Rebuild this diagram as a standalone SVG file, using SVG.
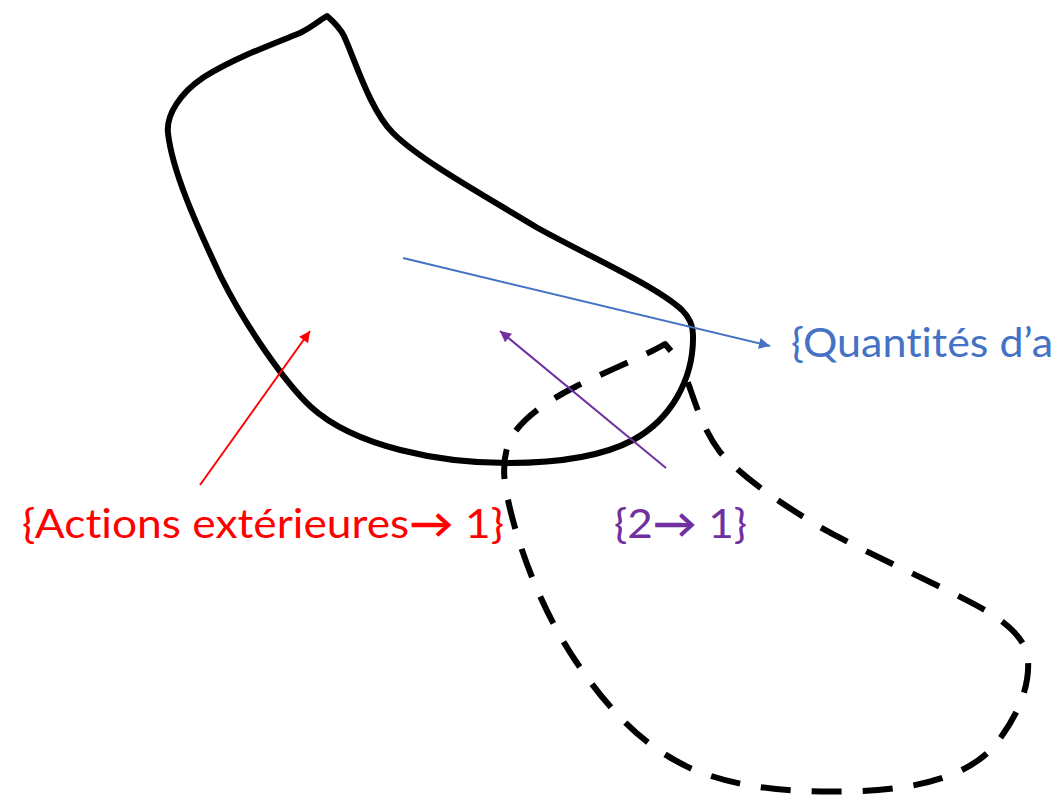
<svg xmlns="http://www.w3.org/2000/svg" width="1051" height="808" viewBox="0 0 1051 808">
  <style>
    .outline { fill: none; stroke: #000; stroke-width: 6; stroke-linejoin: round; stroke-linecap: butt; }
    .dashed { stroke-dasharray: 30 21; }
    .lbl { font-family: Lato, "Liberation Sans", sans-serif; font-size: 40px; font-variant-ligatures: none; }
    .arr { font-weight: bold; }
    .conn { fill: none; stroke-width: 2; }
  </style>
  <defs>
    <marker id="ahRed" viewBox="0 0 10 10" refX="10" refY="5" markerWidth="15" markerHeight="11" markerUnits="userSpaceOnUse" orient="auto">
      <path d="M0,0 L10,5 L0,10 z" fill="#FF0000"/>
    </marker>
    <marker id="ahPurple" viewBox="0 0 10 10" refX="10" refY="5" markerWidth="15" markerHeight="11" markerUnits="userSpaceOnUse" orient="auto">
      <path d="M0,0 L10,5 L0,10 z" fill="#7030A0"/>
    </marker>
    <marker id="ahBlue" viewBox="0 0 10 10" refX="10" refY="5" markerWidth="15" markerHeight="11" markerUnits="userSpaceOnUse" orient="auto">
      <path d="M0,0 L10,5 L0,10 z" fill="#4472C4"/>
    </marker>
  </defs>

  <g id="body1">
    <path class="outline" d="M 327,16 C 334,22 340,28 344,36 C 355,60 370,110 393,133 C 420,160 480,193 536,227 C 580,252 655,285 682,310 C 690,318 693,326 693,335 C 694,380 670,420 633,440 C 605,455 565,463 507,463 C 440,463 355,447 311,407 C 285,383 245,325 221,277 C 195,222 172,170 168,133 C 166,115 180,93 204,77 C 235,58 270,45 300,33 C 312,27 320,20 327,16 Z"/>
  </g>

  <g id="body2">
    <path class="outline dashed" d="M 671,351 L 665,344 C 645,356 600,374 575,387 C 545,402 520,420 510,440 C 502,458 503,480 508,500 C 520,555 545,615 575,660 C 605,705 640,745 690,768 C 740,790 800,793 860,791 C 920,789 970,775 995,745 C 1015,720 1030,690 1028,660 C 1026,640 1010,625 985,610 C 940,585 870,555 820,527 C 775,500 740,475 720,452 C 700,425 695,400 684,372"/>
  </g>

  <g id="connectors">
    <line class="conn" x1="200" y1="485" x2="310" y2="331" stroke="#FF0000" marker-end="url(#ahRed)"/>
    <line class="conn" x1="666" y1="468" x2="500" y2="331" stroke="#7030A0" marker-end="url(#ahPurple)"/>
    <line class="conn" x1="403" y1="258" x2="770" y2="346" stroke="#4472C4" marker-end="url(#ahBlue)"/>
  </g>

  <g id="label-actions">
    <text class="lbl" x="22" y="538" fill="#FF0000" textLength="482" lengthAdjust="spacingAndGlyphs">{Actions extérieures<tspan class="arr">→</tspan> 1}</text>
  </g>
  <g id="label-2to1">
    <text class="lbl" x="614" y="538" fill="#7030A0" textLength="133" lengthAdjust="spacingAndGlyphs">{2<tspan class="arr">→</tspan> 1}</text>
  </g>
  <g id="label-quantites">
    <text class="lbl" x="791" y="357" fill="#4472C4" textLength="262" lengthAdjust="spacingAndGlyphs">{Quantités d’a</text>
  </g>
</svg>
